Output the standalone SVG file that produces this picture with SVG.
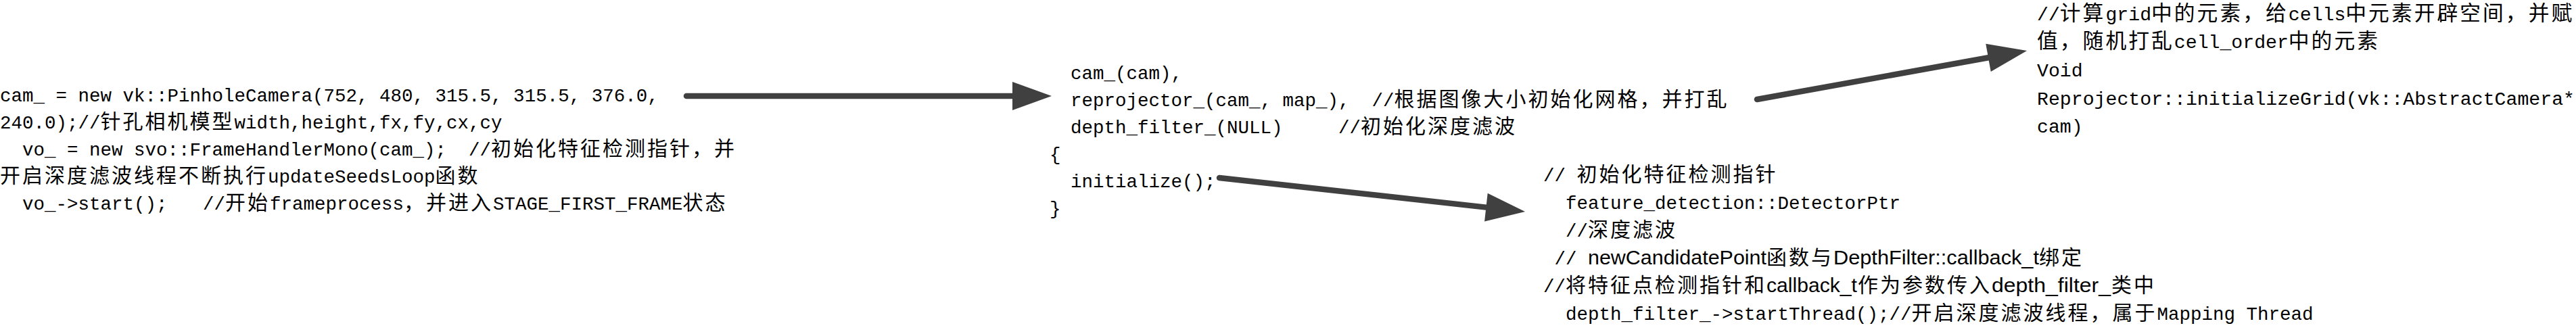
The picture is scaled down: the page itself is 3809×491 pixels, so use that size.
<svg xmlns="http://www.w3.org/2000/svg" width="3809" height="491" viewBox="0 0 3809 491">
<style>
text{fill:#000}
.m{font-family:"Liberation Mono","DejaVu Sans Mono",monospace;font-size:27.5px}
.k{font-family:"Noto Sans CJK SC",sans-serif;font-size:30px;letter-spacing:3px}
.s{font-family:"Liberation Sans",Arial,sans-serif;font-size:29px}
.m2{font-family:"Liberation Mono","DejaVu Sans Mono",monospace;font-size:28.2px}
.k2{font-family:"Noto Sans CJK SC",sans-serif;font-size:30.8px;letter-spacing:3px}
.arrow{stroke:#404040;stroke-width:8.5;stroke-linecap:round;fill:none;marker-end:url(#head)}
</style>
<defs>
<marker id="head" markerUnits="userSpaceOnUse" markerWidth="60" markerHeight="44" refX="0" refY="21" orient="auto" overflow="visible">
<path d="M0,0 L58,21 L0,42 z" fill="#404040"/>
</marker>
</defs>
<rect width="3809" height="491" fill="#fff"/>

<g id="node-main">
<text y="150"><tspan class="m" x="0">cam_ = new vk::PinholeCamera(752, 480, 315.5, 315.5, 376.0,</tspan></text>
<text y="190"><tspan class="m" x="0">240.0);//</tspan><tspan class="k" x="148.5">针孔相机模型</tspan><tspan class="m" x="346.5">width,height,fx,fy,cx,cy</tspan></text>
<text y="230"><tspan class="m" x="33">vo_ = new svo::FrameHandlerMono(cam_);</tspan><tspan class="m" x="693">//</tspan><tspan class="k" x="726">初始化特征检测指针，并</tspan></text>
<text y="270"><tspan class="k" x="0">开启深度滤波线程不断执行</tspan><tspan class="m" x="396">updateSeedsLoop</tspan><tspan class="k" x="643.5">函数</tspan></text>
<text y="310"><tspan class="m" x="33">vo_-&gt;start();</tspan><tspan class="m" x="300">//</tspan><tspan class="k" x="333">开始</tspan><tspan class="m" x="399">frameprocess</tspan><tspan class="k" x="597">，并进入</tspan><tspan class="m" x="729">STAGE_FIRST_FRAME</tspan><tspan class="k" x="1009.5">状态</tspan></text>
</g>

<g id="node-ctor">
<text y="117"><tspan class="m" x="1583">cam_(cam),</tspan></text>
<text y="157"><tspan class="m" x="1583">reprojector_(cam_, map_),</tspan><tspan class="m" x="2028.5">//</tspan><tspan class="k" x="2061.5">根据图像大小初始化网格，并打乱</tspan></text>
<text y="197"><tspan class="m" x="1583">depth_filter_(NULL)</tspan><tspan class="m" x="1979">//</tspan><tspan class="k" x="2012">初始化深度滤波</tspan></text>
<text y="237"><tspan class="m" x="1552">{</tspan></text>
<text y="277"><tspan class="m" x="1583">initialize();</tspan></text>
<text y="317"><tspan class="m" x="1552">}</tspan></text>
</g>

<g id="node-init">
<text y="268"><tspan class="m" x="2282">//</tspan><tspan class="k" x="2331.5">初始化特征检测指针</tspan></text>
<text y="309"><tspan class="m" x="2315">feature_detection::DetectorPtr</tspan></text>
<text y="350"><tspan class="m" x="2315">//</tspan><tspan class="k" x="2348">深度滤波</tspan></text>
<text y="391"><tspan class="m" x="2298.5">//</tspan><tspan class="s" x="2348" textLength="264" lengthAdjust="spacingAndGlyphs">newCandidatePoint</tspan><tspan class="k" x="2612">函数与</tspan><tspan class="s" x="2711" textLength="304" lengthAdjust="spacingAndGlyphs">DepthFilter::callback_t</tspan><tspan class="k" x="3015">绑定</tspan></text>
<text y="432"><tspan class="m" x="2282">//</tspan><tspan class="k" x="2315">将特征点检测指针和</tspan><tspan class="s" x="2612" textLength="134" lengthAdjust="spacingAndGlyphs">callback_t</tspan><tspan class="k" x="2747">作为参数传入</tspan><tspan class="s" x="2945" textLength="176" lengthAdjust="spacingAndGlyphs">depth_filter_</tspan><tspan class="k" x="3122">类中</tspan></text>
<text y="473"><tspan class="m" x="2315">depth_filter_-&gt;startThread();//</tspan><tspan class="k" x="2826.5">开启深度滤波线程，属于</tspan><tspan class="m" x="3189.5">Mapping Thread</tspan></text>
</g>

<g id="node-grid">
<text y="30"><tspan class="m2" x="3012">//</tspan><tspan class="k2" x="3045.8">计算</tspan><tspan class="m2" x="3113.4">grid</tspan><tspan class="k2" x="3181">中的元素，给</tspan><tspan class="m2" x="3383.8">cells</tspan><tspan class="k2" x="3468.3">中元素开辟空间，并赋</tspan></text>
<text y="71"><tspan class="k2" x="3012">值，随机打乱</tspan><tspan class="m2" x="3214.8">cell_order</tspan><tspan class="k2" x="3383.8">中的元素</tspan></text>
<text y="113"><tspan class="m2" x="3012">Void</tspan></text>
<text y="155"><tspan class="m2" x="3012">Reprojector::initializeGrid(vk::AbstractCamera*</tspan></text>
<text y="196"><tspan class="m2" x="3012">cam)</tspan></text>
</g>

<g id="connectors">
<line class="arrow" x1="1015" y1="142" x2="1497" y2="142"/>
<line class="arrow" x1="2598" y1="147" x2="2940" y2="85.3"/>
<line class="arrow" x1="1803" y1="263" x2="2197.4" y2="306.6"/>
</g>
</svg>
